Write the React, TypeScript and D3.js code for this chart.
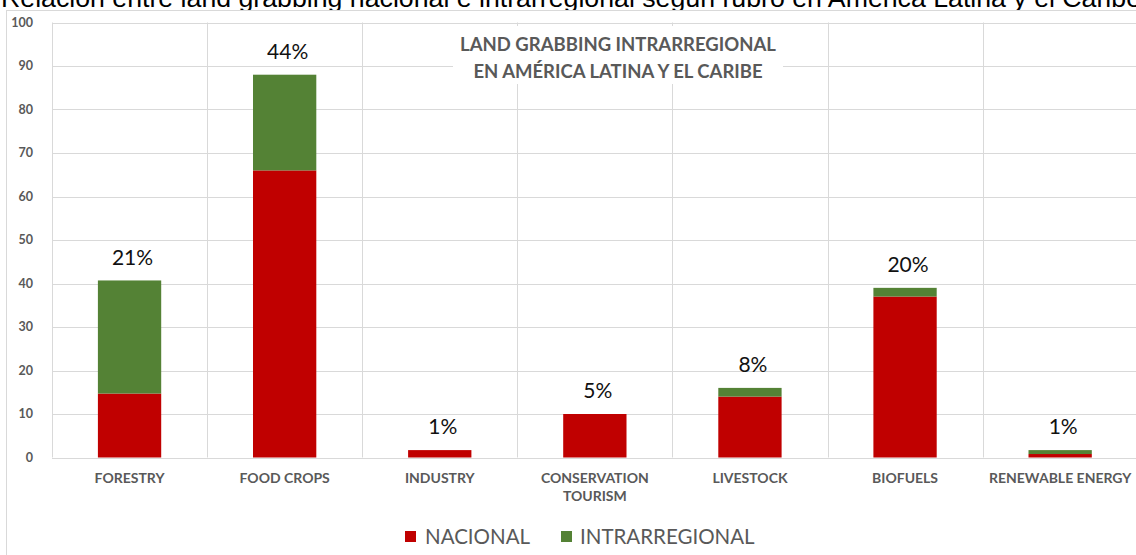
import React from "react";
import * as d3 from "d3";

const caption =
  "Relación entre land grabbing nacional e intrarregional según rubro en América Latina y el Caribe";
const titleLines = ["LAND GRABBING INTRARREGIONAL", "EN AMÉRICA LATINA Y EL CARIBE"];
const categories = [
  "FORESTRY",
  "FOOD CROPS",
  "INDUSTRY",
  "CONSERVATION\nTOURISM",
  "LIVESTOCK",
  "BIOFUELS",
  "RENEWABLE ENERGY",
];
const nacional = [14.7, 66, 1.7, 10, 14, 37, 0.8];
const intrarregional = [26, 22, 0, 0, 2, 2, 0.9];
const shares = ["21%", "44%", "1%", "5%", "8%", "20%", "1%"];
const yTicks = [0, 10, 20, 30, 40, 50, 60, 70, 80, 90, 100];
const seriesNames = ["NACIONAL", "INTRARREGIONAL"];

const W = 1136;
const H = 555;
const RED = "#C00000";
const GREEN = "#548235";
const GRID = "#D9D9D9";
const TXT = "#595959";
const FONT = "Lato, 'Open Sans', sans-serif";

export default function App() {
  const left = 52;
  const right = 1137.7;
  const top = 22.5;
  const bottom = 457.5;
  const x = d3.scaleBand<string>().domain(categories).range([left, right]).padding(0);
  const y = d3.scaleLinear().domain([0, 100]).range([bottom, top]);
  const bw = x.bandwidth() / 2.45;
  const stack = d3
    .stack<number>()
    .keys(["n", "i"])
    .value((i, k) => (k === "n" ? nacional[i] : intrarregional[i]))(
    categories.map((_, i) => i)
  );
  const colors = [RED, GREEN];

  return (
    <svg
      width={W}
      height={H}
      style={{ position: "absolute", left: 0, top: 0, background: "#fff" }}
    >
      <text
        x={1}
        y={7}
        fontFamily="'Liberation Sans', Arial, sans-serif"
        fontSize={26}
        fill="#000"
        textLength={1140}
        lengthAdjust="spacingAndGlyphs"
      >
        {caption}
      </text>
      <rect x={6.5} y={10.5} width={1200} height={600} fill="#fff" stroke={GRID} />
      {/* horizontal gridlines */}
      {yTicks.map((t) => (
        <line
          key={"h" + t}
          x1={left}
          x2={right}
          y1={Math.round(y(t)) + 0.5}
          y2={Math.round(y(t)) + 0.5}
          stroke={GRID}
        />
      ))}
      {/* vertical gridlines */}
      {categories.map((c) => (
        <line
          key={"v" + c}
          x1={Math.round(x(c)!) + 0.5}
          x2={Math.round(x(c)!) + 0.5}
          y1={y(100)}
          y2={y(0)}
          stroke={GRID}
        />
      ))}
      {/* y labels */}
      {yTicks.map((t) => (
        <text
          key={"yl" + t}
          x={33}
          y={y(t)}
          dy="0.35em"
          textAnchor="end"
          fontFamily={FONT}
          fontWeight="bold"
          fontSize={12.5}
          fill={TXT}
        >
          {t}
        </text>
      ))}
      {/* title box */}
      <rect x={453} y={26} width={330} height={58} fill="#fff" />
      {titleLines.map((l, i) => (
        <text
          key={"t" + i}
          x={618}
          y={45 + i * 27}
          dy="0.35em"
          textAnchor="middle"
          fontFamily={FONT}
          fontWeight="bold"
          fontSize={18.5}
          fill={TXT}
        >
          {l}
        </text>
      ))}
      {/* bars */}
      {stack.map((s, si) =>
        s.map((d, i) =>
          d[1] - d[0] > 0 ? (
            <rect
              key={si + "-" + i}
              x={x(categories[i])! + (x.bandwidth() - bw) / 2}
              y={y(d[1])}
              width={bw}
              height={y(d[0]) - y(d[1])}
              fill={colors[si]}
            />
          ) : null
        )
      )}
      {/* share labels */}
      {shares.map((s, i) => (
        <text
          key={"s" + i}
          x={x(categories[i])! + x.bandwidth() / 2 + 3}
          y={y(nacional[i] + intrarregional[i]) - 23}
          dy="0.35em"
          textAnchor="middle"
          fontFamily={FONT}
          fontSize={21}
          fill="#111"
        >
          {s}
        </text>
      ))}
      {/* category labels */}
      {categories.map((c) => (
        <text
          key={"c" + c}
          x={x(c)! + x.bandwidth() / 2}
          y={478}
          dy="0.35em"
          textAnchor="middle"
          fontFamily={FONT}
          fontWeight="bold"
          fontSize={14}
          fill={TXT}
        >
          {c.split("\n").map((ln, j) => (
            <tspan key={j} x={x(c)! + x.bandwidth() / 2} dy={j === 0 ? "0.35em" : 18}>
              {ln}
            </tspan>
          ))}
        </text>
      ))}
      {/* legend */}
      <rect x={405} y={531} width={11} height={11} fill={RED} />
      <text x={425} y={537} dy="0.35em" fontFamily={FONT} fontSize={20.5} fill={TXT}>
        {seriesNames[0]}
      </text>
      <rect x={561} y={531} width={11} height={11} fill={GREEN} />
      <text x={580} y={537} dy="0.35em" fontFamily={FONT} fontSize={20.5} fill={TXT}>
        {seriesNames[1]}
      </text>
    </svg>
  );
}
